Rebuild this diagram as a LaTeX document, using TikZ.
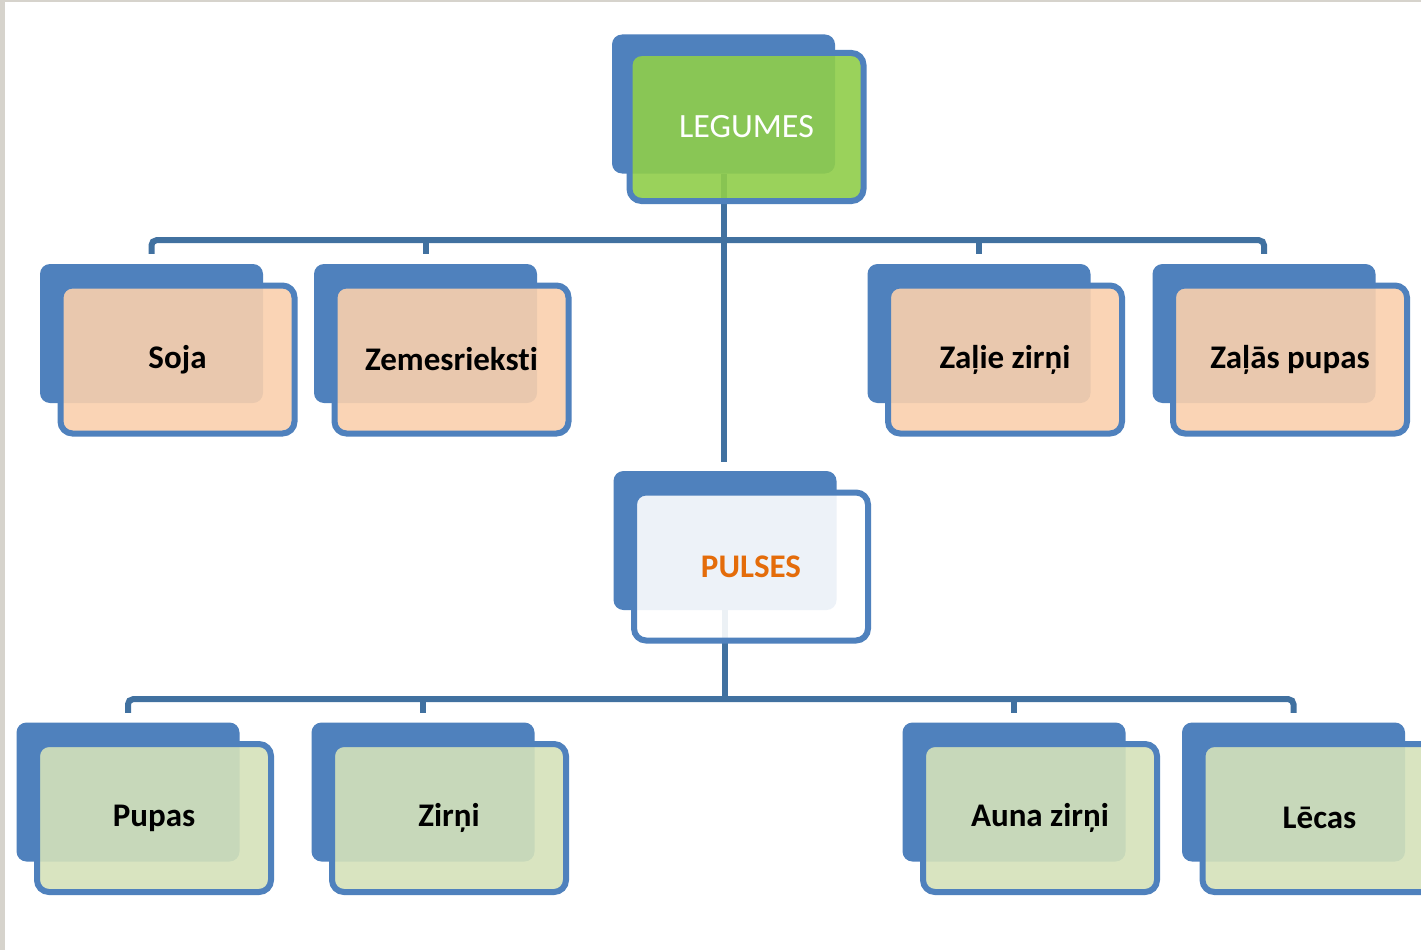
\documentclass[tikz,border=0pt]{standalone}
\usepackage{fontspec}
\setmainfont{Carlito}[Ligatures={NoCommon}]
\usetikzlibrary{positioning}
\pgfdeclarelayer{bg}
\pgfsetlayers{bg,main}
\definecolor{boxblue}{RGB}{79,129,189}
\definecolor{linkblue}{RGB}{65,113,160}
\definecolor{legfill}{RGB}{144,206,74}
\definecolor{peach}{RGB}{250,208,173}
\definecolor{sage}{RGB}{213,226,186}
\definecolor{pulsetext}{RGB}{228,108,10}
\definecolor{pagegray}{RGB}{214,211,204}

\begin{document}
\begin{tikzpicture}[x=1pt,y=-1pt,
  back/.style={fill=boxblue,rounded corners=10pt,minimum width=223pt,minimum height=139pt,inner sep=0pt},
  front/.style={draw=boxblue,line width=6pt,rounded corners=12pt,fill opacity=0.9,text opacity=1,
    minimum width=234pt,minimum height=148pt,inner sep=0pt,font=\fontsize{33}{40}\selectfont\bfseries},
  link/.style={draw=linkblue,line width=6pt}]
  \useasboundingbox (0,0) rectangle (1421,950);

  % back boxes
  \node[back] (legumes-b) at (723.5,104)   {};
  \node[back] (soja-b)    at (151.5,333.5) {};
  \node[back] (zemes-b)   at (425.5,333.5) {};
  \node[back] (zalie-b)   at (979,333.5)   {};
  \node[back] (zalas-b)   at (1264,333.5)  {};
  \node[back] (pulses-b)  at (725,540.5)   {};
  \node[back] (pupas-b)   at (128,792)     {};
  \node[back] (zirni-b)   at (423,792)     {};
  \node[back] (auna-b)    at (1014,792)    {};
  \node[back] (lecas-b)   at (1293.5,792)  {};

  % front boxes
  \node[front,fill=legfill,text=white,font=\fontsize{34}{40}\selectfont] (legumes)
    at ([shift={(23,23)}]legumes-b.center) {LEGUMES};
  \node[front,fill=peach] (soja)  at ([shift={(26,26)}]soja-b.center)  {Soja};
  \node[front,fill=peach] (zemes) at ([shift={(26,26)}]zemes-b.center) {Zemesrieksti};
  \node[front,fill=peach] (zalie) at ([shift={(26,26)}]zalie-b.center) {Zaļie zirņi};
  \node[front,fill=peach] (zalas) at ([shift={(26,26)}]zalas-b.center) {Zaļās pupas};
  \node[front,fill=white,text=pulsetext] (pulses)
    at ([shift={(26,26)}]pulses-b.center) {PULSES};
  \node[front,fill=sage] (pupas) at ([shift={(26,26)}]pupas-b.center) {Pupas};
  \node[front,fill=sage] (zirni) at ([shift={(26,26)}]zirni-b.center) {Zirņi};
  \node[front,fill=sage] (auna)  at ([shift={(26,26)}]auna-b.center)  {Auna zirņi};
  \node[front,fill=sage] (lecas) at ([shift={(26,26)}]lecas-b.center) {Lēcas};

  \begin{pgfonlayer}{bg}
    \fill[pagegray] (0,0) rectangle (1421,950);
    \fill[white] (5,2) rectangle (1421,950);

    \path (legumes-b.south) ++(0,66.5) coordinate (bus1);
    \path (pulses-b.south) ++(0,89) coordinate (bus2);

    \draw[link,shorten >=9pt] (legumes-b.south) -- (legumes-b.south |- pulses-b.north);
    \draw[link,rounded corners=5pt,shorten <=10pt,shorten >=10pt]
      (soja-b.north) |- (bus1) -| (zalas-b.north);
    \draw[link,shorten <=10pt] (zemes-b.north) -- (zemes-b.north |- bus1);
    \draw[link,shorten <=10pt] (zalie-b.north) -- (zalie-b.north |- bus1);

    \draw[link] (pulses-b.south) -- (bus2);
    \draw[link,rounded corners=5pt,shorten <=9.5pt,shorten >=9.5pt]
      (pupas-b.north) |- (bus2) -| (lecas-b.north);
    \draw[link,shorten <=9.5pt] (zirni-b.north) -- (zirni-b.north |- bus2);
    \draw[link,shorten <=9.5pt] (auna-b.north) -- (auna-b.north |- bus2);
  \end{pgfonlayer}
\end{tikzpicture}
\end{document}
